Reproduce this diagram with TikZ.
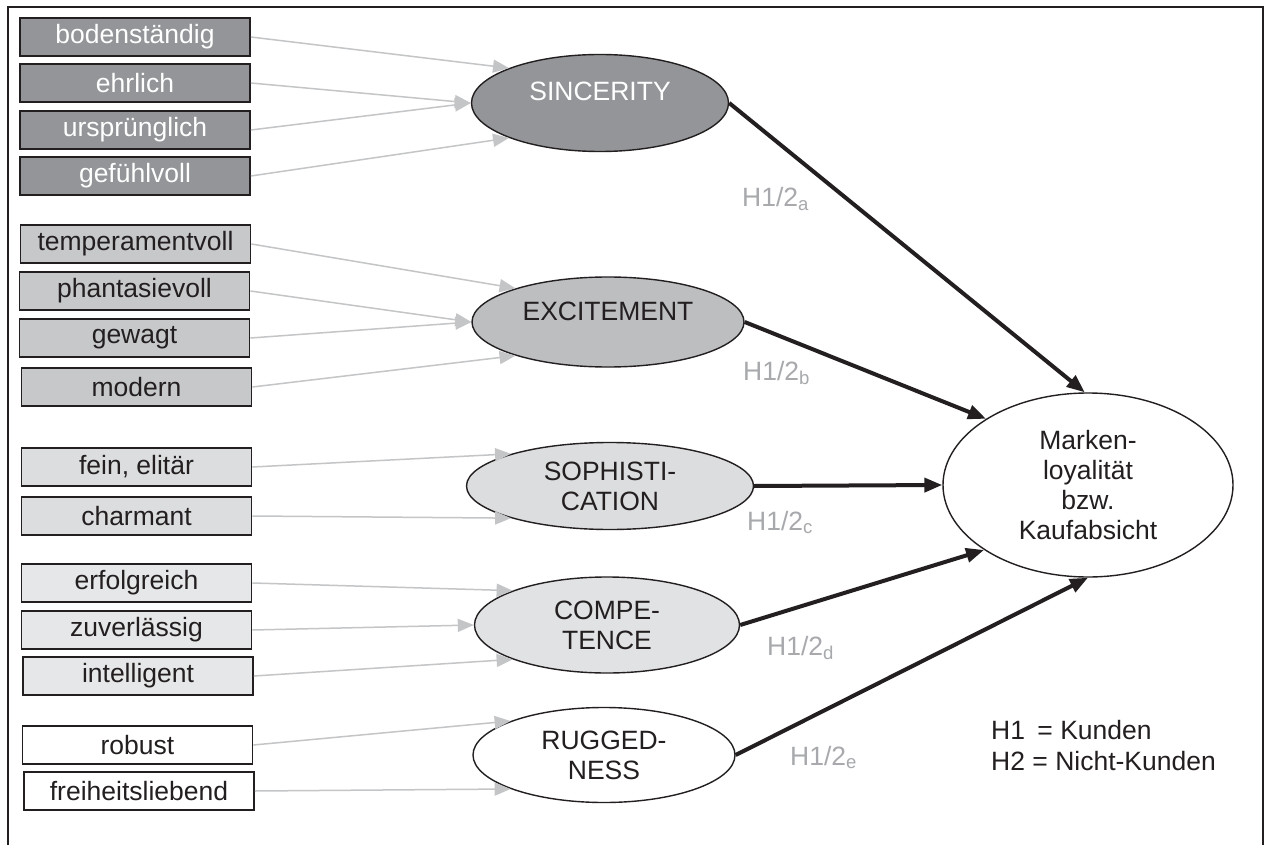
\documentclass[tikz,border=0pt]{standalone}
\usepackage{fontspec}
\setmainfont{Liberation Sans}
\usetikzlibrary{shapes.geometric,arrows.meta}
\definecolor{ink}{HTML}{231F20}
\definecolor{gA}{HTML}{939598}
\definecolor{gB}{HTML}{C7C8CA}
\definecolor{gBe}{HTML}{BCBEC0}
\definecolor{gC}{HTML}{DCDDDE}
\definecolor{gD}{HTML}{E6E7E8}
\definecolor{gDe}{HTML}{E1E2E3}
\definecolor{feedgray}{HTML}{C4C5C7}
\definecolor{hypgray}{HTML}{A7A9AC}
\tikzset{
  txt/.style={font=\fontsize{26.5}{30}\selectfont},
  attr/.style={txt, draw=ink, line width=1.8pt, minimum width=230pt, minimum height=38pt, inner sep=0pt, text=ink},
  dim/.style={txt, ellipse, draw=ink, line width=1.4pt, inner sep=0pt, align=center, text=ink},
  feed/.style={draw=feedgray, line width=1.5pt, -{Triangle[length=16pt,width=13pt]}},
  effect/.style={draw=ink, line width=4pt, -{Triangle[length=18pt,width=14pt]}},
  hyp/.style={txt, text=hypgray, anchor=base west, inner sep=0pt},
  legend/.style={txt, text=ink, anchor=base west, inner sep=0pt}
}
\begin{document}
\begin{tikzpicture}[x=1pt,y=-1pt]
\useasboundingbox (0,0) rectangle (1266,845);
\fill[white] (0,0) rectangle (1266,845);
\draw[ink, line width=2pt] (8,845) -- (8,7) -- (1263,7) -- (1263,845);

% attribute boxes
\node[attr, fill=gA, text=white] (b1) at (135,37) {bodenständig};
\node[attr, fill=gA, text=white] (b2) at (135,83) {ehrlich};
\node[attr, fill=gA, text=white] (b3) at (135,130) {ursprünglich};
\node[attr, fill=gA, text=white] (b4) at (135,176) {gefühlvoll};

\node[attr, fill=gB] (e1) at (135.5,244) {temperamentvoll};
\node[attr, fill=gB] (e2) at (134.5,291) {phantasievoll};
\node[attr, fill=gB] (e3) at (134.5,338) {gewagt};
\node[attr, fill=gB] (e4) at (136.5,387) {modern};

\node[attr, fill=gC] (s1) at (136.5,467) {fein, elitär};
\node[attr, fill=gC] (s2) at (136.5,516) {charmant};

\node[attr, fill=gD] (c1) at (136.5,583) {erfolgreich};
\node[attr, fill=gD] (c2) at (136.5,630) {zuverlässig};
\node[attr, fill=gD] (c3) at (138,676) {intelligent};

\node[attr, fill=white] (r1) at (137.5,745) {robust};
\node[attr, fill=white] (r2) at (139,791) {freiheitsliebend};

% dimension ellipses
\node[dim, fill=gA, text=white, minimum width=257pt, minimum height=97pt] (sin) at (600,103) {SINCERITY\\[-6pt]~};
\node[dim, fill=gBe, minimum width=272pt, minimum height=90pt] (exc) at (608,322) {EXCITEMENT\\[-8pt]~};
\node[dim, fill=gC, minimum width=287pt, minimum height=87pt] (sop) at (610,486) {SOPHISTI-\\CATION};
\node[dim, fill=gDe, minimum width=265pt, minimum height=96pt] (com) at (607,625) {COMPE-\\TENCE};
\node[dim, fill=white, minimum width=262pt, minimum height=95pt] (rug) at (604,755) {RUGGED-\\NESS};

\node[dim, fill=white, minimum width=290pt, minimum height=184pt] (tgt) at (1088,485) {Marken-\\loyalität\\bzw.\\Kaufabsicht};

% feeding arrows
\draw[feed] (b1.east) -- (sin.159);
\draw[feed] (b2.east) -- (sin.180);
\draw[feed] (b3.east) -- (sin.180);
\draw[feed] (b4.east) -- (sin.201);

\draw[feed] (e1.east) -- (exc.160);
\draw[feed] (e2.east) -- (exc.180);
\draw[feed] (e3.east) -- (exc.180);
\draw[feed] (e4.east) -- (exc.200);

\draw[feed] (s1.east) -- (sop.162);
\draw[feed] (s2.east) -- (sop.198);

\draw[feed] (c1.east) -- (com.160);
\draw[feed] (c2.east) -- (com.180);
\draw[feed] (c3.east) -- (com.200);

\draw[feed] (r1.east) -- (rug.160);
\draw[feed] (r2.east) -- (rug.200);

% effect arrows
\draw[effect] (sin.east) -- (tgt.92);
\draw[effect] (exc.east) -- (tgt.147);
\draw[effect] (sop.east) -- (tgt.west);
\draw[effect] (com.east) -- (tgt.212);
\draw[effect] (rug.east) -- (tgt.270);

% hypothesis labels
\node[hyp] (ha) at (742,207) {H1/2\textsubscript{a}};
\node[hyp] (hb) at (743,380) {H1/2\textsubscript{b}};
\node[hyp] (hc) at (747,530) {H1/2\textsubscript{c}};
\node[hyp] (hd) at (767,655) {H1/2\textsubscript{d}};
\node[hyp] (he) at (790,765) {H1/2\textsubscript{e}};

% legend
\node[legend] (l1) at (991,739) {H1\hspace{5pt} = Kunden};
\node[legend] (l2) at (991,770) {H2 = Nicht-Kunden};
\end{tikzpicture}
\end{document}
